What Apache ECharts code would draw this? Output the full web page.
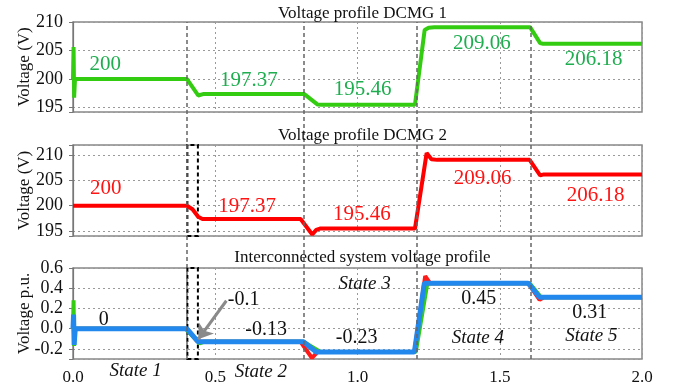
<!DOCTYPE html>
<html>
<head>
<meta charset="utf-8">
<script src="https://cdn.jsdelivr.net/npm/echarts@6/dist/echarts.min.js"></script>
<style>
html,body{margin:0;padding:0;background:#fff;}
#main{width:679px;height:391px;}
</style>
</head>
<body>
<div id="main"></div>
<script>
// ---- data (time in s, voltage) ----
const titles = ['Voltage profile DCMG 1', 'Voltage profile DCMG 2', 'Interconnected system voltage profile'];
const xTicks = [0, 0.5, 1.0, 1.5, 2.0];
const stateTimes = [0.403, 0.813, 1.206, 1.607];

const mg1T = [0, 0.002, 0.004, 0.007, 0.40, 0.44, 0.46, 0.812, 0.86, 0.875, 1.202, 1.236, 1.25, 1.27, 1.607, 1.642, 1.652, 2.0];
const mg1V = [200, 205.6, 196.7, 200, 200, 197.1, 197.37, 197.37, 195.5, 195.46, 195.46, 208.6, 209.0, 209.06, 209.06, 206.3, 206.18, 206.18];

const mg2T = [0, 0.40, 0.42, 0.44, 0.455, 0.80, 0.841, 0.855, 0.868, 1.202, 1.243, 1.26, 1.28, 1.605, 1.642, 1.655, 2.0];
const mg2V = [200, 200, 199.3, 197.8, 197.37, 197.37, 194.3, 195.2, 195.46, 195.46, 210.4, 209.2, 209.06, 209.06, 206.0, 206.18, 206.18];

const sysRedT = [0, 0.40, 0.435, 0.45, 0.80, 0.84, 0.86, 1.20, 1.238, 1.255, 1.60, 1.64, 1.655, 2.0];
const sysRedV = [0, 0, -0.12, -0.13, -0.13, -0.29, -0.23, -0.23, 0.52, 0.45, 0.45, 0.285, 0.31, 0.31];
const sysGreenT = [0, 0.002, 0.004, 0.008, 0.395, 0.445, 0.46, 0.81, 0.87, 1.205, 1.245, 1.26, 1.605, 1.645, 2.0];
const sysGreenV = [0, 0.28, -0.17, 0, 0, -0.145, -0.13, -0.13, -0.23, -0.23, 0.44, 0.45, 0.45, 0.31, 0.31];
const sysBlueT = [0, 0.002, 0.004, 0.008, 0.40, 0.44, 0.455, 0.81, 0.855, 0.87, 1.20, 1.235, 1.25, 1.60, 1.64, 2.0];
const sysBlueV = [0, 0.14, -0.16, 0, 0, -0.13, -0.13, -0.13, -0.23, -0.23, -0.23, 0.45, 0.45, 0.45, 0.31, 0.31];

const mgLabels = ['200', '197.37', '195.46', '209.06', '206.18'];
const sysLabels = ['0', '-0.1', '-0.13', '-0.23', '0.45', '0.31'];
const stateLabels = ['State 1', 'State 2', 'State 3', 'State 4', 'State 5'];

// ---- build ----
const FONT = 'Liberation Serif';
const zip = (t, v) => t.map((x, i) => [x, v[i]]);
const gridTops = [22, 145, 268];
const gridH = [90, 91, 91];
const L = 73, R = 37;

const grids = gridTops.map((t, i) => ({left: L, right: R, top: t, height: gridH[i], show: true, borderColor: '#888', borderWidth: 1.5}));
grids.push({left: L, right: R, top: 22, height: 337, show: false});

const xAxes = [0, 1, 2].map(i => ({
  type: 'value', gridIndex: i, min: 0, max: 2, interval: 0.5,
  axisLine: {show: false}, axisTick: {show: false},
  axisLabel: {show: i === 2, fontFamily: FONT, fontSize: 17, color: '#111', margin: 10, formatter: v => v.toFixed(1)},
  splitLine: {show: true, lineStyle: {color: '#9a9a9a', type: [2, 3], width: 1}}
}));
xAxes.push({type: 'value', gridIndex: 3, min: 0, max: 2, show: false});

const yRanges = [[194.2, 210, 3], [194, 212, 4], [-0.3, 0.6, 4]];
const yNames = ['Voltage (V)', 'Voltage (V)', 'Voltage p.u.'];
const yAxes = yRanges.map((r, i) => ({
  type: 'value', gridIndex: i, min: r[0], max: r[1], splitNumber: r[2],
  name: yNames[i], nameLocation: 'middle', nameGap: 40, nameMoveOverlap: false,
  nameTextStyle: {fontFamily: FONT, fontSize: 17, color: '#111'},
  axisLine: {show: true, lineStyle: {color: '#777', width: 1.2}},
  axisTick: {show: true, length: 4, lineStyle: {color: '#777'}},
  axisLabel: {fontFamily: FONT, fontSize: 18, color: '#111', margin: 10,
    formatter: v => {
      if (i < 2) return (Math.abs(v % 5) < 1e-6) ? String(v) : '';
      const k = Math.round(v * 10);
      return (Math.abs(v * 10 - k) < 1e-6 && k % 2 === 0) ? v.toFixed(1) : '';
    }},
  splitLine: {show: true, lineStyle: {color: '#9a9a9a', type: [2, 3], width: 1}}
}));
yAxes.push({type: 'value', gridIndex: 3, min: 0, max: 1, show: false});

function mp(coord, text, color, size, italic, offset) {
  return {coord: coord, symbolSize: 0, label: {show: true, position: 'inside', formatter: text, color: color,
    fontFamily: FONT, fontSize: size, fontStyle: italic ? 'italic' : 'normal', offset: offset || [0, 0]}};
}

const GREEN_TXT = '#1fae4f', RED_TXT = '#ff1414';
const mg1Pos = [[0.113, 202.5], [0.618, 199.8], [1.018, 198.1], [1.437, 206.3], [1.83, 203.35]];
const mg2Pos = [[0.115, 203.4], [0.612, 199.9], [1.015, 198.2], [1.44, 205.4], [1.837, 202.1]];
const sysPos = [[0.108, 0.093], [0.6, 0.283], [0.679, -0.014], [0.997, -0.087], [1.426, 0.293], [1.816, 0.16]];
const statePos = [[0.22, -0.3, 12], [0.66, -0.3, 13], [1.025, 0.443, 0], [1.423, -0.09, 0], [1.822, -0.074, 0]];

const series = [
  {type: 'line', xAxisIndex: 0, yAxisIndex: 0, data: zip(mg1T, mg1V), showSymbol: false, symbol: 'none',
   lineStyle: {color: '#33cc11', width: 4}, z: 3,
   markPoint: {data: mgLabels.map((s, i) => mp(mg1Pos[i], s, GREEN_TXT, 21)), animation: false}},
  {type: 'line', xAxisIndex: 1, yAxisIndex: 1, data: zip(mg2T, mg2V), showSymbol: false, symbol: 'none',
   lineStyle: {color: '#ff0000', width: 4}, z: 3,
   markPoint: {data: mgLabels.map((s, i) => mp(mg2Pos[i], s, RED_TXT, 21)), animation: false},
   markArea: {silent: true, itemStyle: {color: 'rgba(0,0,0,0)', borderColor: '#000', borderWidth: 2, borderType: [4, 3]},
     data: [[{xAxis: 0.402}, {xAxis: 0.439}]]}},
  {type: 'line', xAxisIndex: 2, yAxisIndex: 2, data: zip(sysRedT, sysRedV), showSymbol: false, symbol: 'none',
   lineStyle: {color: '#ff1a1a', width: 4}, z: 2},
  {type: 'line', xAxisIndex: 2, yAxisIndex: 2, data: zip(sysGreenT, sysGreenV), showSymbol: false, symbol: 'none',
   lineStyle: {color: '#33cc11', width: 4}, z: 3},
  {type: 'line', xAxisIndex: 2, yAxisIndex: 2, data: zip(sysBlueT, sysBlueV), showSymbol: false, symbol: 'none',
   lineStyle: {color: '#2288ee', width: 5}, z: 4,
   markPoint: {data: sysLabels.map((s, i) => mp(sysPos[i], s, '#111', 20))
       .concat(stateLabels.map((s, i) => mp([statePos[i][0], statePos[i][1]], s, '#111', 19, true, [0, statePos[i][2]]))),
     animation: false},
   markArea: {silent: true, itemStyle: {color: 'rgba(0,0,0,0)', borderColor: '#000', borderWidth: 2, borderType: [4, 3]},
     data: [[{xAxis: 0.402}, {xAxis: 0.439}]]},
   markLine: {silent: true, symbol: ['none', 'arrow'], symbolSize: 14, label: {show: false},
     lineStyle: {color: '#8a8a8a', width: 3, type: 'solid'},
     data: [[{coord: [0.539, 0.276]}, {coord: [0.44, -0.105]}]], animation: false}},
  {type: 'line', xAxisIndex: 3, yAxisIndex: 3, data: [], z: 5,
   markLine: {silent: true, symbol: 'none', label: {show: false},
     lineStyle: {color: '#666', width: 1.5, type: [4, 3]},
     data: stateTimes.map(t => ({xAxis: t})), animation: false}}
];

const titleOpts = titles.map((t, i) => ({text: t, left: L + (679 - L - R) / 2, textAlign: 'center', top: [0, 122, 244][i],
  textStyle: {fontFamily: FONT, fontSize: 17, fontWeight: 'normal', color: '#111'}}));

const chart = echarts.init(document.getElementById('main'), null, {renderer: 'canvas'});
chart.setOption({
  animation: false,
  backgroundColor: '#fff',
  title: titleOpts,
  grid: grids,
  xAxis: xAxes,
  yAxis: yAxes,
  series: series
});
</script>
</body>
</html>
